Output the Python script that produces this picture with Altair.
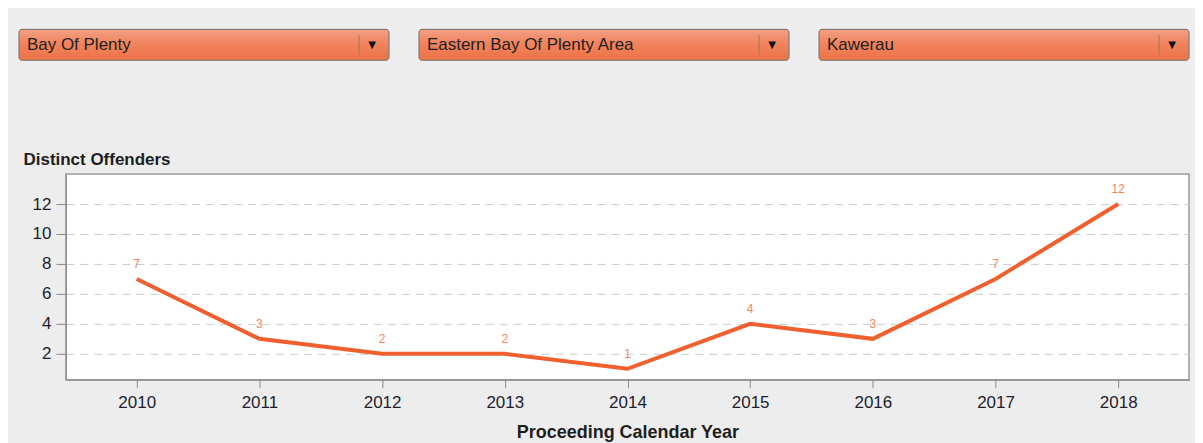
import altair as alt
import pandas as pd

# Filters (drop-down selections)
filters = ["Bay Of Plenty", "Eastern Bay Of Plenty Area", "Kawerau"]

# Series
years = [2010, 2011, 2012, 2013, 2014, 2015, 2016, 2017, 2018]
offenders = [7, 3, 2, 2, 1, 4, 3, 7, 12]
y_ticks = [2, 4, 6, 8, 10, 12]

FONT = "Liberation Sans"
LINE = "#F0602E"
LABEL = "#F5835E"

fdf = pd.DataFrame({"filter": filters})
df = pd.DataFrame({"year": years, "offenders": offenders})

W = 1125
band_scale = alt.Scale(range=[-47, W], paddingInner=0.075, paddingOuter=0)


def band_x(pos):
    return alt.X("filter:N", sort=filters, bandPosition=pos, scale=band_scale, axis=None)


grad = alt.Gradient(
    gradient="linear",
    stops=[
        alt.GradientStop(color="#F4A084", offset=0),
        alt.GradientStop(color="#F0845E", offset=0.45),
        alt.GradientStop(color="#EE7347", offset=1),
    ],
    x1=0, x2=0, y1=0, y2=1,
)

base_top = alt.Chart(fdf).properties(width=W, height=31)

boxes = base_top.mark_rect(
    fill=grad, stroke="#6E6E6E", strokeWidth=1, cornerRadius=3
).encode(x=alt.X("filter:N", sort=filters, scale=band_scale, axis=None))

labels_top = base_top.mark_text(
    align="left", baseline="middle", dx=8, font=FONT, fontSize=17, color="#1E1E1E"
).encode(x=band_x(0), text="filter:N")

sep = base_top.mark_rule(color="#A8705A", strokeWidth=1, xOffset=-30).encode(
    x=band_x(1), y=alt.value(6), y2=alt.value(26)
)

arrow = base_top.mark_text(
    align="center", baseline="middle", dx=-17, font="DejaVu Sans", fontSize=10, color="#111111"
).encode(x=band_x(1), text=alt.value("▼"))

top = alt.layer(boxes, labels_top, sep, arrow).properties(
    view=alt.ViewBackground(stroke=None, fill=None)
)

xenc = alt.X(
    "year:O",
    scale=alt.Scale(type="point", padding=0.577),
    axis=alt.Axis(
        title="Proceeding Calendar Year",
        labelAngle=0,
        labelFont=FONT, labelFontSize=17, labelColor="#1E1E2E",
        labelPadding=7,
        tickSize=8, tickColor="#8A8A8A", domainColor="#8A8A8A",
        titleFont=FONT, titleFontSize=18, titleFontWeight="bold", titleColor="#1E1E1E",
        titlePadding=13, grid=False,
    ),
)
yenc = alt.Y(
    "offenders:Q",
    scale=alt.Scale(domain=[0.27, 14], nice=False, zero=False),
    axis=alt.Axis(
        values=y_ticks,
        title="Distinct Offenders",
        titleAngle=0, titleAlign="left", titleBaseline="alphabetic",
        titleX=-43, titleY=-10,
        titleFont=FONT, titleFontSize=17, titleFontWeight="bold", titleColor="#1E1E1E",
        labelFont=FONT, labelFontSize=17, labelColor="#1E1E2E", labelPadding=5,
        tickSize=10, tickColor="#8A8A8A", domainColor="#8A8A8A",
        grid=True, gridColor="#CBCBCB", gridDash=[8, 6], gridWidth=1,
    ),
)

base = alt.Chart(df).properties(width=W, height=206)
line = base.mark_line(color=LINE, strokeWidth=4).encode(x=xenc, y=yenc)
pts = base.mark_text(
    dy=-15, font=FONT, fontSize=12, color=LABEL, baseline="middle"
).encode(x=xenc, y=yenc, text="offenders:Q")

bottom = alt.layer(line, pts).properties(
    view=alt.ViewBackground(fill="white", stroke="#9A9A9A", strokeWidth=1.5)
)

chart = alt.vconcat(top, bottom, spacing=114, bounds="flush").properties(
    background="#EDEDED",
    padding={"left": 10, "top": 20, "right": 5, "bottom": 0},
).configure_view(stroke=None)

chart.save("out.html", embed_options={"renderer": "svg", "actions": False})
